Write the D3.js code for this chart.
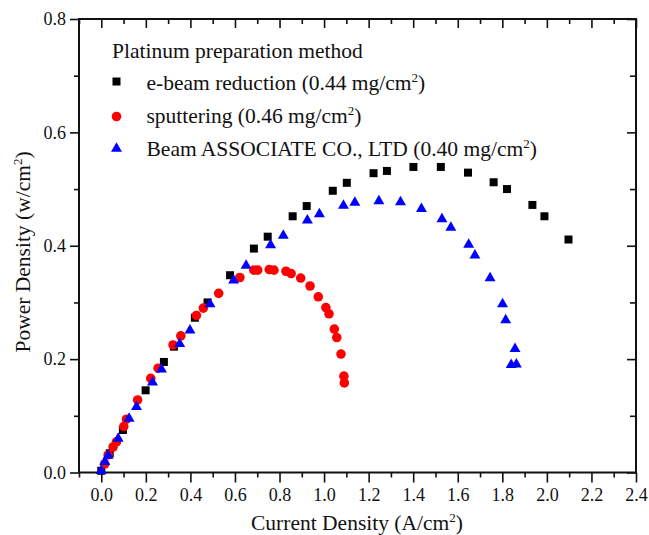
<!DOCTYPE html>
<html><head><meta charset="utf-8">
<script src="https://cdn.jsdelivr.net/npm/d3@7"></script>
<style>body{margin:0;background:#fff}svg{display:block}text{font-family:"Liberation Serif","Times New Roman",serif;fill:#111}</style>
</head><body><svg id="c" width="649" height="535"></svg>
<script>
// ---- data ----
const ebeamX = [0.0,0.038,0.097,0.199,0.281,0.326,0.420,0.477,0.578,0.685,0.747,0.859,0.922,1.039,1.102,1.222,1.282,1.401,1.524,1.646,1.761,1.821,1.935,1.989,2.097];
const ebeamY = [0.003,0.034,0.075,0.145,0.195,0.222,0.273,0.300,0.348,0.395,0.416,0.452,0.470,0.497,0.511,0.528,0.532,0.539,0.539,0.529,0.512,0.500,0.472,0.452,0.411];
const sputX = [0.015,0.031,0.053,0.068,0.101,0.113,0.163,0.222,0.255,0.322,0.357,0.427,0.458,0.527,0.622,0.685,0.702,0.754,0.775,0.829,0.852,0.895,0.937,0.974,1.008,1.022,1.046,1.057,1.076,1.089,1.091];
const sputY = [0.015,0.031,0.045,0.054,0.081,0.094,0.128,0.166,0.184,0.225,0.241,0.277,0.290,0.316,0.344,0.357,0.357,0.358,0.357,0.355,0.351,0.343,0.329,0.310,0.291,0.280,0.253,0.238,0.209,0.170,0.158];
const beamX = [0.0,0.016,0.031,0.076,0.125,0.158,0.230,0.270,0.352,0.398,0.488,0.594,0.650,0.760,0.817,0.925,0.979,1.087,1.138,1.246,1.343,1.437,1.529,1.569,1.649,1.677,1.745,1.801,1.815,1.857,1.840,1.863];
const beamY = [0.003,0.019,0.030,0.060,0.095,0.116,0.159,0.182,0.227,0.251,0.297,0.339,0.365,0.401,0.418,0.445,0.456,0.471,0.476,0.479,0.477,0.465,0.447,0.432,0.402,0.383,0.343,0.297,0.269,0.218,0.190,0.191];
const xMajor = [0,0.2,0.4,0.6,0.8,1.0,1.2,1.4,1.6,1.8,2.0,2.2,2.4];
const xMinor = [-0.1,0.1,0.3,0.5,0.7,0.9,1.1,1.3,1.5,1.7,1.9,2.1,2.3];
const yMajor = [0,0.2,0.4,0.6,0.8];
const yMinor = [0.1,0.3,0.5,0.7];
const legendTitle = "Platinum preparation method";
const seriesNames = ["e-beam reduction (0.44 mg/cm", "sputtering (0.46 mg/cm", "Beam ASSOCIATE CO., LTD (0.40 mg/cm"];
const xTitle = "Current Density (A/cm";
const yTitle = "Power Density (w/cm";

// ---- drawing ----
const svg = d3.select("#c");
const L=79, R=636, T=19, B=472.5;
const x = d3.scaleLinear().domain([-0.1,2.4]).range([L,R]);
const y = d3.scaleLinear().domain([0,0.8]).range([B,T]);
const fmt = d3.format(".1f");

function axisG(axis, tr){
  const g = svg.append("g").attr("transform", tr).call(axis);
  g.select(".domain").remove();
  g.selectAll("line").attr("stroke","#111").attr("stroke-width",1.6);
  return g;
}
// bottom
const gb = axisG(d3.axisBottom(x).tickValues(xMajor).tickSize(10).tickPadding(6).tickFormat(fmt), `translate(0,${B})`);
gb.selectAll("text").attr("font-size",18).attr("dy","0.71em");
axisG(d3.axisBottom(x).tickValues(xMinor).tickSize(5).tickFormat(""), `translate(0,${B})`);
// top (inward)
axisG(d3.axisBottom(x).tickValues(xMajor).tickSize(9).tickFormat(""), `translate(0,${T})`);
axisG(d3.axisBottom(x).tickValues(xMinor).tickSize(5).tickFormat(""), `translate(0,${T})`);
// left
const gl = axisG(d3.axisLeft(y).tickValues(yMajor).tickSize(9).tickPadding(4).tickFormat(fmt), `translate(${L},0)`);
gl.selectAll("text").attr("font-size",18);
axisG(d3.axisLeft(y).tickValues(yMinor).tickSize(5).tickFormat(""), `translate(${L},0)`);
// right (inward)
axisG(d3.axisLeft(y).tickValues(yMajor).tickSize(9).tickFormat(""), `translate(${R},0)`);
axisG(d3.axisLeft(y).tickValues(yMinor).tickSize(6).tickFormat(""), `translate(${R},0)`);

svg.append("rect").attr("x",L).attr("y",T).attr("width",R-L).attr("height",B-T)
  .attr("fill","none").attr("stroke","#111").attr("stroke-width",2);

// markers
const sq = d3.symbol().type(d3.symbolSquare).size(64);
const ci = d3.symbol().type(d3.symbolCircle).size(72);
const tr = d3.symbol().type(d3.symbolTriangle).size(52);
const series = [
  {xs:ebeamX, ys:ebeamY, sym:sq, color:"#000000"},
  {xs:sputX, ys:sputY, sym:ci, color:"#ff0000"},
  {xs:beamX, ys:beamY, sym:tr, color:"#0000ff"}
];
series.forEach(s=>{
  svg.append("g").selectAll("path").data(s.xs.map((v,i)=>[v,s.ys[i]])).join("path")
    .attr("d", s.sym()).attr("fill", s.color)
    .attr("transform", d=>`translate(${x(d[0])},${y(d[1])})`);
});

// legend
svg.append("text").attr("x",112).attr("y",58).attr("font-size",21.5).text(legendTitle);
const rowsY=[90,123,156], symY=[81.5,116.5,148.5];
series.forEach((s,i)=>{
  svg.append("path").attr("d", s.sym()).attr("fill", s.color).attr("transform",`translate(116.5,${symY[i]})`);
  const t = svg.append("text").attr("x",146.5).attr("y",rowsY[i]).attr("font-size",21.5);
  t.append("tspan").text(seriesNames[i]);
  t.append("tspan").attr("font-size",13).attr("dy",-8).text("2");
  t.append("tspan").attr("dy",8).text(")");
});

// axis titles
const xt = svg.append("text").attr("x",357).attr("y",530).attr("font-size",21.5).attr("text-anchor","middle");
xt.append("tspan").text(xTitle);
xt.append("tspan").attr("font-size",13).attr("dy",-8).text("2");
xt.append("tspan").attr("dy",8).text(")");
const yt = svg.append("text").attr("transform","translate(30,252) rotate(-90)").attr("font-size",21.5).attr("text-anchor","middle");
yt.append("tspan").text(yTitle);
yt.append("tspan").attr("font-size",13).attr("dy",-8).text("2");
yt.append("tspan").attr("dy",8).text(")");
</script></body></html>
